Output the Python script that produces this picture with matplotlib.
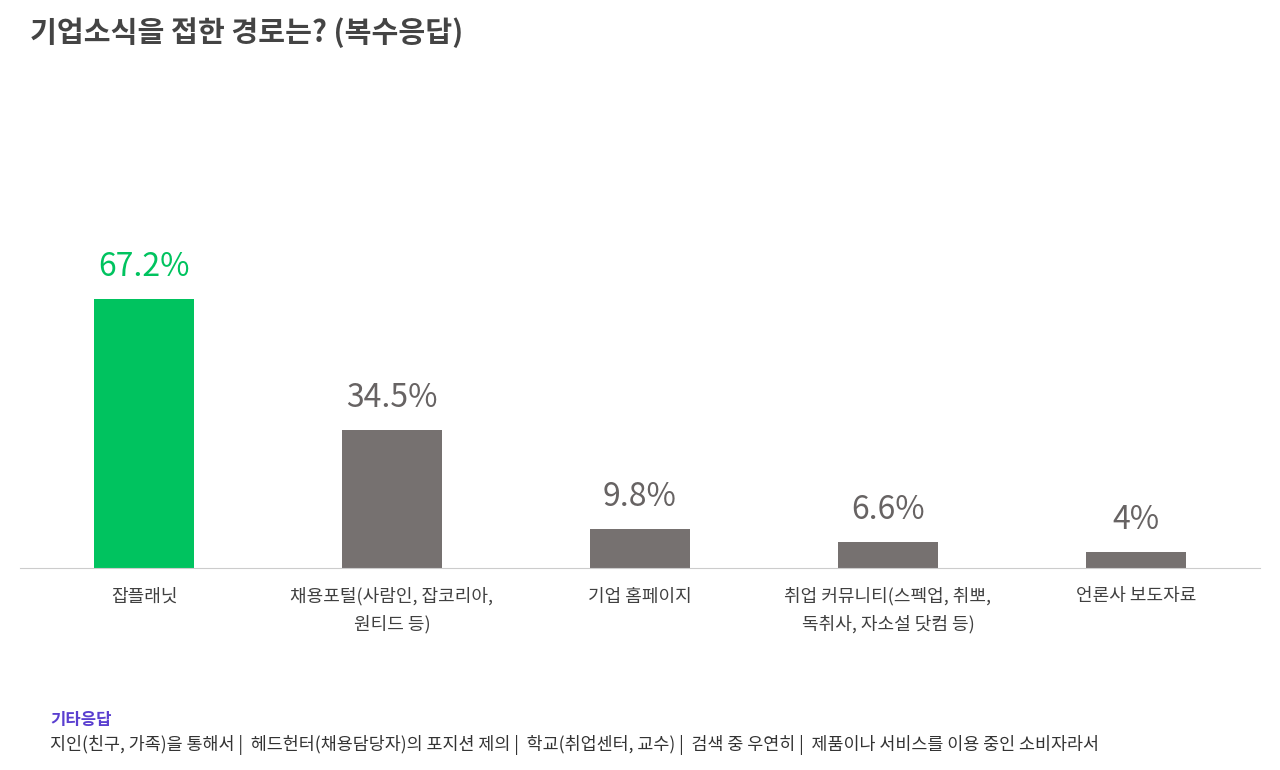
import matplotlib
matplotlib.use("Agg")
import matplotlib.pyplot as plt

plt.rcParams['font.family'] = ['Noto Sans CJK KR', 'DejaVu Sans']

# data
categories = ["잡플래닛", "채용포털(사람인, 잡코리아,\n원티드 등)", "기업 홈페이지",
              "취업 커뮤니티(스펙업, 취뽀,\n독취사, 자소설 닷컴 등)", "언론사 보도자료"]
values = [67.2, 34.5, 9.8, 6.6, 4]
labels = ["67.2%", "34.5%", "9.8%", "6.6%", "4%"]
colors = ["#00c35f", "#767170", "#767170", "#767170", "#767170"]
label_colors = ["#00c35f", "#676363", "#676363", "#676363", "#676363"]

fig = plt.figure(figsize=(12.8, 7.7), dpi=100)
ax = fig.add_axes([20/1280, 202/770, 1240/1280, 468/770])

x = range(len(values))
ax.bar(x, values, width=0.4, color=colors)
for i, v in enumerate(values):
    ax.text(i, v + 4, labels[i], ha='center', va='bottom', fontsize=23,
            color=label_colors[i])

ax.set_xlim(-0.5, 4.5)
ax.set_ylim(0, 117)
ax.set_yticks([])
ax.set_xticks(list(x))
ax.set_xticklabels(categories, fontsize=13, color="#404040", linespacing=1.6)
ax.tick_params(axis='x', length=0, pad=14)
for s in ['top', 'right', 'left']:
    ax.spines[s].set_visible(False)
ax.spines['bottom'].set_color("#cccccc")

fig.text(30/1280, 1 - 33/770, "기업소식을 접한 경로는? (복수응답)", fontsize=21,
         fontweight='bold', color="#444444", va='center')
fig.text(50/1280, 1 - 720/770, "기타응답", fontsize=12, fontweight='bold',
         color="#5a3fd0", va='center')
fig.text(50/1280, 1 - 745/770,
         "지인(친구, 가족)을 통해서 |  헤드헌터(채용담당자)의 포지션 제의 |  학교(취업센터, 교수) |  검색 중 우연히 |  제품이나 서비스를 이용 중인 소비자라서",
         fontsize=12.5, color="#333333", va='center')

fig.savefig("out.png", dpi=100)
